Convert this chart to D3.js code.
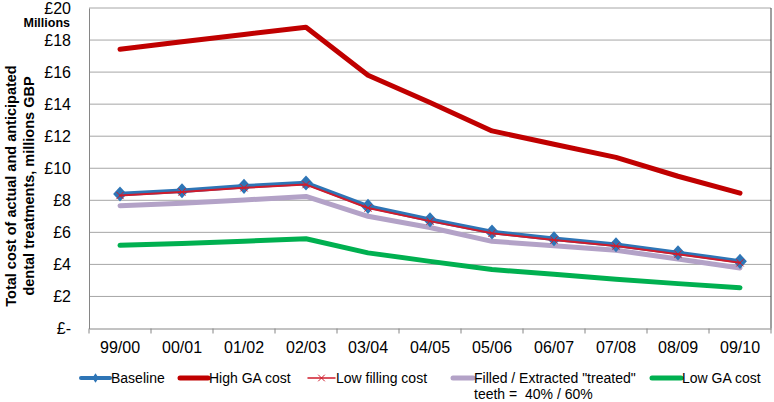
<!DOCTYPE html>
<html><head><meta charset="utf-8">
<script src="https://cdn.jsdelivr.net/npm/d3@7"></script>
<style>body{margin:0;background:#fff}svg{display:block;font-family:"Liberation Sans",Arial,sans-serif}</style>
</head><body><svg id="c" width="774" height="402"></svg>
<script>
const categories = ["99/00","00/01","01/02","02/03","03/04","04/05","05/06","06/07","07/08","08/09","09/10"];
const baseline = [8.39,8.6,8.87,9.08,7.62,6.79,6.02,5.6,5.23,4.72,4.19];
const highGA = [17.43,17.9,18.35,18.8,15.8,14.1,12.33,11.5,10.68,9.5,8.45];
const lowFilling = [8.3,8.52,8.78,8.98,7.52,6.7,5.94,5.52,5.15,4.64,4.1];
const filledExtracted = [7.66,7.82,8.02,8.24,7.0,6.3,5.44,5.17,4.88,4.34,3.78];
const lowGA = [5.19,5.3,5.45,5.6,4.72,4.19,3.68,3.38,3.08,2.8,2.55];
const yTicks = [0,2,4,6,8,10,12,14,16,18,20];
const yTickLabels = ["£-","£2","£4","£6","£8","£10","£12","£14","£16","£18","£20"];

const svg = d3.select("#c");
const L = 89, R = 771, T = 8, B = 328.5;
const x = d3.scaleBand().domain(categories).range([L, R]);
const y = d3.scaleLinear().domain([0, 20]).range([B, T]);
const FONT = "Liberation Sans, Arial, sans-serif";

// gridlines
svg.append("g").selectAll("line").data(yTicks.filter(d => d > 0)).join("line")
  .attr("x1", L).attr("x2", R).attr("y1", d => y(d)).attr("y2", d => y(d))
  .attr("stroke", "#a6a6a6").attr("stroke-width", 1);
svg.append("line").attr("x1", R).attr("x2", R).attr("y1", T).attr("y2", B).attr("stroke", "#404040").attr("stroke-width", 1);

// y axis
const yAxis = d3.axisLeft(y).tickValues(yTicks).tickFormat((d, i) => yTickLabels[i]).tickSize(0).tickPadding(18);
const gy = svg.append("g").attr("transform", `translate(${L},0)`).call(yAxis);
gy.select(".domain").attr("stroke", "#868686");
gy.selectAll("text").attr("font-size", 16).attr("fill", "#000").attr("font-family", FONT);

// x axis
const xAxis = d3.axisBottom(x).tickSize(0).tickPadding(13);
const gx = svg.append("g").attr("transform", `translate(0,${B})`).call(xAxis);
gx.select(".domain").attr("stroke", "#868686");
gx.selectAll("text").attr("font-size", 16).attr("fill", "#000").attr("font-family", FONT);
const bounds = categories.map(c => x(c)).concat([R]);
gx.append("g").selectAll("line").data(bounds).join("line")
  .attr("x1", d => d).attr("x2", d => d).attr("y1", 0).attr("y2", 5).attr("stroke", "#868686");

svg.append("text").attr("x", 70).attr("y", 27).attr("text-anchor", "end")
  .attr("font-size", 12.5).attr("font-weight", "bold").text("Millions");

// y title
const yt = svg.append("text").attr("transform", "translate(0,186) rotate(-90)")
  .attr("text-anchor", "middle").attr("font-size", 14.5).attr("font-weight", "bold");
yt.append("tspan").attr("x", 0).attr("y", 16).text("Total cost of actual and anticipated");
yt.append("tspan").attr("x", 0).attr("y", 34).text("dental treatments, millions GBP");

const cx = c => x(c) + x.bandwidth() / 2;
const line = d3.line().x((d, i) => cx(categories[i])).y(d => y(d));

const series = [
  {name: "Filled", data: filledExtracted, color: "#b3a2c7", w: 5},
  {name: "LowGA", data: lowGA, color: "#00b050", w: 5},
  {name: "HighGA", data: highGA, color: "#c00000", w: 5},
  {name: "Baseline", data: baseline, color: "#2e75b6", w: 4.5},
  {name: "LowFill", data: lowFilling, color: "#d01c2c", w: 2}
];
series.forEach(s => {
  svg.append("path").datum(s.data).attr("d", line).attr("fill", "none")
    .attr("stroke", s.color).attr("stroke-width", s.w).attr("stroke-linejoin", "round").attr("stroke-linecap", "round");
  if (s.name === "Baseline") {
    svg.append("g").selectAll("path").data(s.data).join("path")
      .attr("d", d3.symbol(d3.symbolDiamond2, 120))
      .attr("transform", (d, i) => `translate(${cx(categories[i])},${y(d)}) scale(1,1.1)`)
      .attr("fill", s.color);
  }
  if (s.name === "LowFill") {
    svg.append("g").selectAll("path").data(s.data).join("path")
      .attr("d", d3.symbol(d3.symbolTimes, 36))
      .attr("transform", (d, i) => `translate(${cx(categories[i])},${y(d)})`)
      .attr("fill", "none").attr("stroke", s.color).attr("stroke-width", 1);
  }
});

// legend
const lg = svg.append("g").attr("font-size", 14);
const leg = [
  {x1: 81, x2: 110, color: "#2e75b6", w: 4, label: ["Baseline"], marker: "diamond"},
  {x1: 180, x2: 208, color: "#c00000", w: 5, label: ["High GA cost"]},
  {x1: 308, x2: 335, color: "#d01c2c", w: 1.5, label: ["Low filling cost"], marker: "x"},
  {x1: 453, x2: 473, color: "#b3a2c7", w: 5, label: ["Filled / Extracted \"treated\"", "teeth =  40% / 60%"]},
  {x1: 652, x2: 681, color: "#00b050", w: 5, label: ["Low GA cost"]}
];
const ly = 378;
leg.forEach(d => {
  lg.append("line").attr("x1", d.x1).attr("x2", d.x2).attr("y1", ly).attr("y2", ly)
    .attr("stroke", d.color).attr("stroke-width", d.w).attr("stroke-linecap", "round");
  const mx = (d.x1 + d.x2) / 2;
  if (d.marker === "diamond") lg.append("path").attr("d", d3.symbol(d3.symbolDiamond2, 40)).attr("transform", `translate(${mx},${ly}) scale(0.8,1.2)`).attr("fill", d.color);
  if (d.marker === "x") lg.append("path").attr("d", d3.symbol(d3.symbolTimes, 30)).attr("transform", `translate(${mx},${ly})`).attr("fill", "none").attr("stroke", d.color).attr("stroke-width", 1);
  d.label.forEach((t, i) => lg.append("text").attr("x", d.x2 + 1).attr("y", ly + 5 + i * 16).attr("xml:space", "preserve").text(t));
});
</script></body></html>
